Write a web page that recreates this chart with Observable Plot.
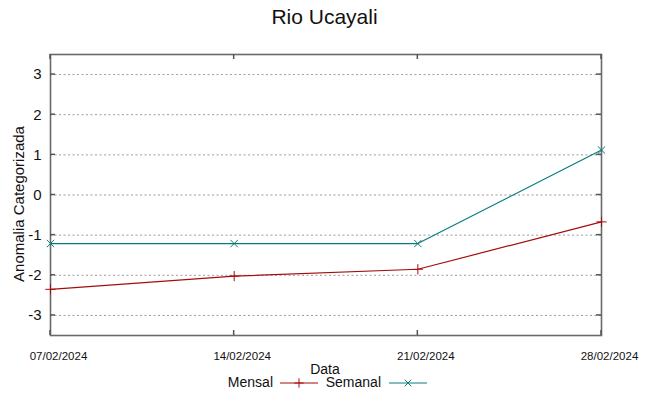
<!DOCTYPE html>
<html>
<head>
<meta charset="utf-8">
<script src="https://cdn.jsdelivr.net/npm/d3@7"></script>
<script src="https://cdn.jsdelivr.net/npm/@observablehq/plot@0.6"></script>
<style>
  html, body { margin: 0; padding: 0; background: #fff; }
  #wrap { position: relative; width: 649px; height: 396px; font-family: "Liberation Sans", Arial, sans-serif; color: #111; }
  .abs { position: absolute; white-space: nowrap; }
</style>
</head>
<body>
<div id="wrap"></div>
<script>
const dates = ["2024-02-07", "2024-02-14", "2024-02-21", "2024-02-28"];
const mensal = [-2.35, -2.02, -1.85, -0.67];
const semanal = [-1.21, -1.21, -1.21, 1.12];
const yTicks = [-3, -2, -1, 0, 1, 2, 3];
const title = "Rio Ucayali";
const yLabel = "Anomalia Categorizada";
const xLabel = "Data";
const seriesNames = ["Mensal", "Semanal"];
const colors = ["#a50d0d", "#087c7c"];

const parse = d3.utcParse("%Y-%m-%d");
const dts = dates.map(parse);
const dataM = dts.map((d, i) => ({date: d, v: mensal[i]}));
const dataS = dts.map((d, i) => ({date: d, v: semanal[i]}));

const W = 649, H = 396, ML = 50, MR = 48, MT = 54, MB = 61;
const x0 = dts[0], x1 = dts[dts.length - 1];

const chart = Plot.plot({
  width: W, height: H,
  marginLeft: ML, marginRight: MR, marginTop: MT, marginBottom: MB,
  style: {fontFamily: "Liberation Sans, Arial, sans-serif", background: "#fff", overflow: "visible"},
  x: {type: "utc", domain: [x0, x1], ticks: dts, tickFormat: d3.utcFormat("%d/%m/%Y"), tickSize: 0, tickPadding: 16, label: null},
  y: {domain: [-3.5, 3.5], ticks: yTicks, tickSize: 0, tickPadding: 9, label: null, tickFormat: d => String(d)},
  marks: [
    Plot.ruleY(yTicks, {stroke: "#9a9a9a", strokeDasharray: "2,2.5", strokeWidth: 1}),
    Plot.frame({stroke: "#6a6a6a", strokeWidth: 1.6}),
    Plot.line(dataM, {x: "date", y: "v", stroke: colors[0], strokeWidth: 1.2}),
    Plot.line(dataS, {x: "date", y: "v", stroke: colors[1], strokeWidth: 1.2}),
    Plot.dot(dataM, {x: "date", y: "v", symbol: "plus", r: 3.4, stroke: colors[0], strokeWidth: 1}),
    Plot.dot(dataS, {x: "date", y: "v", symbol: "times", r: 3.4, stroke: colors[1], strokeWidth: 1})
  ]
});
document.getElementById("wrap").appendChild(chart);

const svg = d3.select(chart);
const xs = chart.scale("x"), ys = chart.scale("y");
const tg = svg.append("g").attr("stroke", "#555").attr("stroke-width", 1.5);
yTicks.forEach(t => {
  const py = ys.apply(t);
  tg.append("line").attr("x1", ML).attr("x2", ML + 5).attr("y1", py).attr("y2", py);
  tg.append("line").attr("x1", W - MR - 5).attr("x2", W - MR).attr("y1", py).attr("y2", py);
});
dts.forEach(d => {
  const px = xs.apply(d);
  tg.append("line").attr("x1", px).attr("x2", px).attr("y1", H - MB).attr("y2", H - MB - 5);
  tg.append("line").attr("x1", px).attr("x2", px).attr("y1", MT).attr("y2", MT + 5);
});

svg.selectAll("g[aria-label='y-axis tick label'] text").style("font-size", "15px").attr("fill", "#111");
svg.selectAll("g[aria-label='x-axis tick label'] text").style("font-size", "11.5px").attr("fill", "#111").attr("dx", 8);

const wrap = document.getElementById("wrap");
function addText(txt, css) {
  const el = document.createElement("div");
  el.className = "abs";
  el.textContent = txt;
  Object.assign(el.style, css);
  wrap.appendChild(el);
  return el;
}
addText(title, {left: "0", width: W + "px", textAlign: "center", top: "5px", fontSize: "21px"});
addText(yLabel, {left: "18px", top: "204px", fontSize: "15px", transform: "translate(-50%, -50%) rotate(-90deg)", transformOrigin: "center"});
addText(xLabel, {left: "325px", top: "361px", fontSize: "14px", transform: "translateX(-50%)"});

const legend = document.createElement("div");
legend.className = "abs";
Object.assign(legend.style, {left: "0", top: "374px", width: W + "px", height: "20px"});
wrap.appendChild(legend);
const items = [
  {name: seriesNames[0], color: colors[0], sym: "plus", textRight: 273, lineX: 280},
  {name: seriesNames[1], color: colors[1], sym: "times", textRight: 381, lineX: 389}
];
items.forEach(it => {
  const t = document.createElement("div");
  t.className = "abs";
  t.textContent = it.name;
  Object.assign(t.style, {right: (W - it.textRight) + "px", top: "0px", fontSize: "14px"});
  legend.appendChild(t);
  const s = d3.create("svg").attr("width", 40).attr("height", 20)
    .style("position", "absolute").style("left", it.lineX + "px").style("top", "0px");
  s.append("line").attr("x1", 0).attr("x2", 38).attr("y1", 9).attr("y2", 9).attr("stroke", it.color).attr("stroke-width", 1.2);
  const sym = d3.symbol(it.sym === "plus" ? d3.symbolPlus : d3.symbolTimes, 30)();
  s.append("path").attr("d", sym).attr("transform", "translate(19,9)").attr("fill", "none").attr("stroke", it.color).attr("stroke-width", 1);
  legend.appendChild(s.node());
});
</script>
</body>
</html>
